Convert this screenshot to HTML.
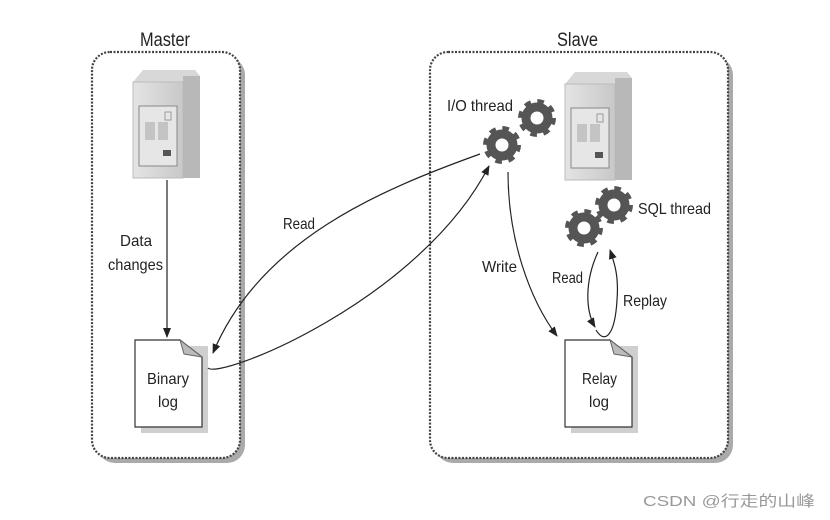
<!DOCTYPE html>
<html><head><meta charset="utf-8"><style>
body{margin:0;background:#fff}
svg{display:block}
text{font-family:"Liberation Sans",sans-serif;fill:#222}
</style></head><body>
<svg width="830" height="520" viewBox="0 0 830 520" xmlns="http://www.w3.org/2000/svg">
<defs>
<marker id="ar" viewBox="0 0 10 10" refX="9" refY="5" markerWidth="10" markerHeight="10" orient="auto-start-reverse" markerUnits="userSpaceOnUse"><path d="M0,1 L10,5 L0,9 z" fill="#222"/></marker>
<linearGradient id="sv" x1="0" x2="1"><stop offset="0" stop-color="#e4e4e4"/><stop offset="1" stop-color="#c8c8c8"/></linearGradient>
<g id="server">
<path d="M0,12 L10,0 L62,0 L67,6 L67,108 L0,108 Z" fill="#d8d8d8"/>
<rect x="0" y="12" width="50" height="96" fill="url(#sv)" stroke="#bbb"/>
<rect x="50" y="6" width="17" height="102" fill="#b8b8b8"/>
<rect x="6" y="36" width="38" height="60" fill="#e6e6e6" stroke="#888"/>
<rect x="12" y="52" width="10" height="18" fill="#c4c4c4"/><rect x="25" y="52" width="10" height="18" fill="#c4c4c4"/>
<rect x="30" y="80" width="8" height="6" fill="#555"/>
<rect x="32" y="42" width="6" height="8" fill="none" stroke="#999"/>
</g>
<g id="gear">
<circle r="11" fill="none" stroke="#555" stroke-width="9"/>
<circle r="16" fill="none" stroke="#555" stroke-width="6" stroke-dasharray="6.3 6.3"/>
</g>
<g id="doc">
<rect x="6" y="6" width="67" height="87" fill="#bbb" opacity="0.7"/>
<path d="M0,0 L45,0 L67,17 L67,87 L0,87 Z" fill="#fff" stroke="#333" stroke-width="1.2"/>
<path d="M45,0 L49,14 L67,17 Z" fill="#bbb" stroke="#666"/>
</g>
</defs>
<rect x="97" y="57" width="148" height="406" rx="18" fill="#aaa"/>
<rect x="92" y="52" width="148" height="406" rx="18" fill="#fff" stroke="#444" stroke-width="2.2" stroke-dasharray="2 1.5"/>
<rect x="435" y="57" width="298" height="406" rx="18" fill="#aaa"/>
<rect x="430" y="52" width="298" height="406" rx="18" fill="#fff" stroke="#444" stroke-width="2.2" stroke-dasharray="2 1.5"/>
<text x="140" y="46" font-size="19" textLength="50" lengthAdjust="spacingAndGlyphs">Master</text>
<text x="557" y="46" font-size="19" textLength="41" lengthAdjust="spacingAndGlyphs">Slave</text>
<use href="#server" x="133" y="70"/>
<use href="#server" x="565" y="72"/>
<line x1="167" y1="180" x2="167" y2="337" stroke="#222" stroke-width="1.2" marker-end="url(#ar)"/>
<text x="120" y="246" font-size="16" textLength="32" lengthAdjust="spacingAndGlyphs">Data</text>
<text x="108" y="270" font-size="16" textLength="55" lengthAdjust="spacingAndGlyphs">changes</text>
<use href="#doc" x="135" y="340"/>
<text x="147" y="384" font-size="16" textLength="42" lengthAdjust="spacingAndGlyphs">Binary</text>
<text x="158" y="407" font-size="16" textLength="20" lengthAdjust="spacingAndGlyphs">log</text>
<use href="#doc" x="565" y="340"/>
<text x="582" y="384" font-size="16" textLength="35" lengthAdjust="spacingAndGlyphs">Relay</text>
<text x="589" y="407" font-size="16" textLength="20" lengthAdjust="spacingAndGlyphs">log</text>
<use href="#gear" x="502" y="145"/>
<use href="#gear" x="537" y="118"/>
<use href="#gear" x="584" y="228"/>
<use href="#gear" x="614" y="205"/>
<text x="447" y="111" font-size="16" textLength="66" lengthAdjust="spacingAndGlyphs">I/O thread</text>
<text x="638" y="214" font-size="16" textLength="73" lengthAdjust="spacingAndGlyphs">SQL thread</text>
<path d="M480,154 C380,190 260,240 213,353" fill="none" stroke="#222" stroke-width="1.2" marker-end="url(#ar)"/>
<path d="M208,368 C220,380 420,300 489,166" fill="none" stroke="#222" stroke-width="1.2" marker-end="url(#ar)"/>
<path d="M508,172 C508,240 530,300 557,336" fill="none" stroke="#222" stroke-width="1.2" marker-end="url(#ar)"/>
<path d="M598,252 C585,280 585,310 595,327" fill="none" stroke="#222" stroke-width="1.2" marker-end="url(#ar)"/>
<path d="M596,330 C605,345 615,335 617,300 C619,275 614,262 610,250" fill="none" stroke="#222" stroke-width="1.2" marker-end="url(#ar)"/>
<text x="283" y="229" font-size="16" textLength="32" lengthAdjust="spacingAndGlyphs">Read</text>
<text x="482" y="272" font-size="16" textLength="35" lengthAdjust="spacingAndGlyphs">Write</text>
<text x="552" y="283" font-size="16" textLength="31" lengthAdjust="spacingAndGlyphs">Read</text>
<text x="623" y="306" font-size="16" textLength="44" lengthAdjust="spacingAndGlyphs">Replay</text>
<text x="643" y="506" font-size="15" textLength="172" lengthAdjust="spacingAndGlyphs" style="font-family:'Liberation Sans','Noto Sans CJK SC',sans-serif;fill:#999">CSDN @行走的山峰</text>
</svg>
</body></html>
